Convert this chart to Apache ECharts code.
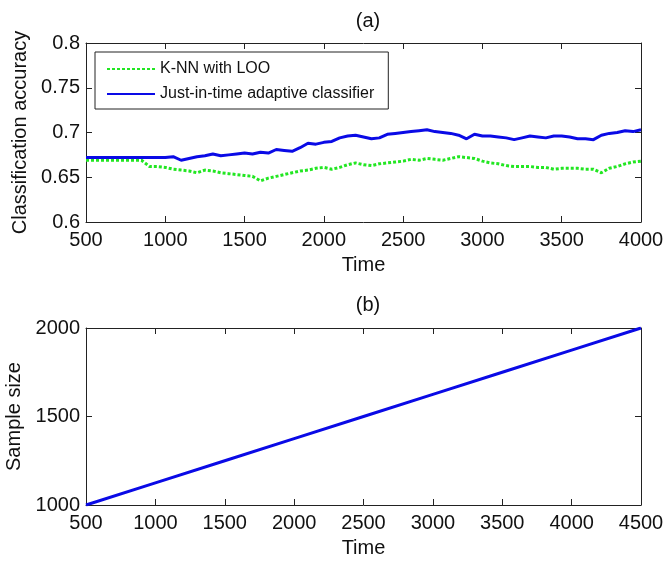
<!DOCTYPE html>
<html>
<head>
<meta charset="utf-8">
<script src="https://cdn.jsdelivr.net/npm/echarts@6/dist/echarts.min.js"></script>
<style>html,body{margin:0;padding:0;background:#fff}#c{width:665px;height:561px}</style>
</head>
<body>
<div id="c"></div>
<script>
// ---- data ----
var timeA = [500,550,600,650,700,750,800,850,900,950,1000,1050,1100,1150,1200,1250,1300,1350,1400,1450,1500,1550,1600,1650,1700,1750,1800,1850,1900,1950,2000,2050,2100,2150,2200,2250,2300,2350,2400,2450,2500,2550,2600,2650,2700,2750,2800,2850,2900,2950,3000,3050,3100,3150,3200,3250,3300,3350,3400,3450,3500,3550,3600,3650,3700,3750,3800,3850,3900,3950,4000];
var knnLoo = [0.669,0.669,0.669,0.669,0.669,0.669,0.669,0.669,0.662,0.662,0.661,0.659,0.658,0.657,0.655,0.658,0.657,0.655,0.654,0.653,0.652,0.651,0.646,0.649,0.651,0.653,0.655,0.657,0.658,0.660,0.661,0.659,0.661,0.664,0.666,0.664,0.663,0.665,0.666,0.667,0.668,0.670,0.669,0.671,0.670,0.669,0.671,0.673,0.672,0.671,0.668,0.666,0.665,0.663,0.662,0.662,0.662,0.661,0.661,0.659,0.660,0.660,0.660,0.659,0.659,0.655,0.660,0.662,0.665,0.667,0.668];
var jitAdaptive = [0.672,0.672,0.672,0.672,0.672,0.672,0.672,0.672,0.672,0.672,0.672,0.673,0.669,0.671,0.673,0.674,0.676,0.674,0.675,0.676,0.677,0.676,0.678,0.677,0.681,0.680,0.679,0.683,0.688,0.687,0.689,0.690,0.694,0.696,0.697,0.695,0.693,0.694,0.698,0.699,0.700,0.701,0.702,0.703,0.701,0.700,0.699,0.697,0.693,0.698,0.696,0.696,0.695,0.694,0.692,0.694,0.696,0.695,0.694,0.696,0.696,0.695,0.693,0.693,0.692,0.697,0.699,0.700,0.702,0.701,0.703];
var timeB = [500,1000,1500,2000,2500,3000,3500,4000,4500];
var sampleSize = [1000,1125,1250,1375,1500,1625,1750,1875,2000];
var seriesNames = ['K-NN with LOO','Just-in-time adaptive classifier'];

function pairs(xs, ys){ return xs.map(function(x,i){ return [x, ys[i]]; }); }

var FONT = 'Liberation Sans, Arial, sans-serif';
var AX = '#222';
function plain(v){ return String(v); }
var lbl = {color:'#111', fontSize:20, fontFamily:FONT, formatter:plain};

function mainX(grid, max, gap){
  return {type:'value', gridIndex:grid, min:500, max:max, interval:500, position:'bottom',
    name:'Time', nameLocation:'middle', nameGap:gap, nameTextStyle:{color:'#111',fontSize:20,fontFamily:FONT},
    axisLine:{onZero:false, lineStyle:{color:AX,width:1}}, axisTick:{inside:true,length:6,lineStyle:{color:AX}},
    axisLabel:Object.assign({margin:8}, lbl), splitLine:{show:false}};
}
function mirrorX(grid, max){
  return {type:'value', gridIndex:grid, min:500, max:max, interval:500, position:'top',
    axisLine:{onZero:false, lineStyle:{color:AX,width:1}}, axisTick:{inside:true,length:6,lineStyle:{color:AX}},
    axisLabel:{show:false}, splitLine:{show:false}};
}
function mainY(grid, min, max, iv, name, gap){
  return {type:'value', gridIndex:grid, min:min, max:max, interval:iv, position:'left',
    name:name, nameLocation:'middle', nameGap:gap, nameTextStyle:{color:'#111',fontSize:20,fontFamily:FONT},
    axisLine:{show:true,onZero:false, lineStyle:{color:AX,width:1}}, axisTick:{show:true,inside:true,length:6,lineStyle:{color:AX}},
    axisLabel:Object.assign({margin:6}, lbl), splitLine:{show:false}};
}
function mirrorY(grid, min, max, iv){
  return {type:'value', gridIndex:grid, min:min, max:max, interval:iv, position:'right',
    axisLine:{show:true,onZero:false, lineStyle:{color:AX,width:1}}, axisTick:{show:true,inside:true,length:6,lineStyle:{color:AX}},
    axisLabel:{show:false}, splitLine:{show:false}};
}

var chart = echarts.init(document.getElementById('c'), null, {renderer:'canvas'});
chart.setOption({
  animation:false,
  backgroundColor:'#fff',
  title:[
    {text:'(a)', left:363, top:6, textAlign:'center', textStyle:{fontSize:20,fontWeight:'normal',color:'#111',fontFamily:FONT}},
    {text:'(b)', left:363, top:290, textAlign:'center', textStyle:{fontSize:20,fontWeight:'normal',color:'#111',fontFamily:FONT}}
  ],
  grid:[
    {left:86, right:24, top:43, height:179, containLabel:false, outerBoundsMode:'none'},
    {left:86, right:24, top:328, height:177, containLabel:false, outerBoundsMode:'none'}
  ],
  legend:{
    data:seriesNames, orient:'vertical', left:95, top:52,
    borderColor:'#222', borderWidth:1, backgroundColor:'#fff',
    padding:[9,14,7,11], itemWidth:48, itemHeight:14, itemGap:9,
    itemStyle:{opacity:0, borderWidth:0},
    textStyle:{fontSize:16, color:'#111', fontFamily:FONT}
  },
  xAxis:[ mainX(0,4000,33), mirrorX(0,4000), mainX(1,4500,33), mirrorX(1,4500) ],
  yAxis:[ mainY(0,0.6,0.8,0.05,'Classification accuracy',56), mirrorY(0,0.6,0.8,0.05),
          mainY(1,1000,2000,500,'Sample size',56), mirrorY(1,1000,2000,500) ],
  series:[
    {name:seriesNames[0], type:'line', xAxisIndex:0, yAxisIndex:0, data:pairs(timeA,knnLoo),
     showSymbol:false, symbol:'none', lineStyle:{color:'#22e622', width:3, type:[3,2]}, itemStyle:{color:'#22e622'}},
    {name:seriesNames[1], type:'line', xAxisIndex:0, yAxisIndex:0, data:pairs(timeA,jitAdaptive),
     showSymbol:false, symbol:'none', lineStyle:{color:'#0a0ae6', width:3}, itemStyle:{color:'#0a0ae6'}},
    {name:'Sample size', type:'line', xAxisIndex:2, yAxisIndex:2, data:pairs(timeB,sampleSize),
     showSymbol:false, symbol:'none', lineStyle:{color:'#0a0ae6', width:3}, itemStyle:{color:'#0a0ae6'}}
  ]
});
</script>
</body>
</html>
